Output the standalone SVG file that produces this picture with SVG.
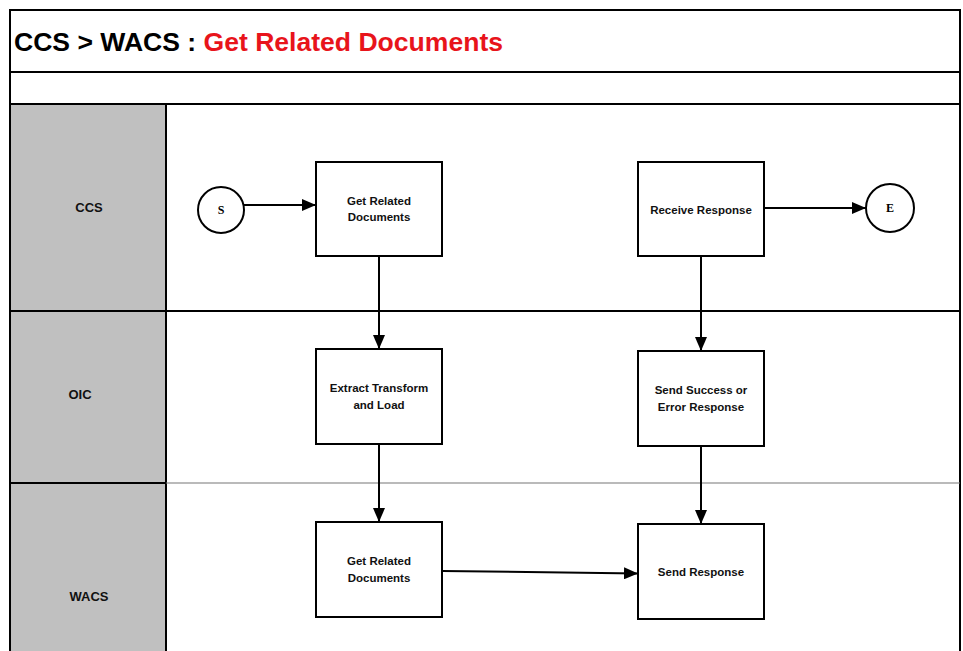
<svg xmlns="http://www.w3.org/2000/svg" width="963" height="651" viewBox="0 0 963 651">
  <defs>
    <marker id="arrow" viewBox="0 0 14 12" refX="14" refY="6" markerWidth="14" markerHeight="12" markerUnits="userSpaceOnUse" orient="auto">
      <path d="M0,0 L14,6 L0,12 Z" fill="#000"/>
    </marker>
    <style>
      .frame { fill: none; stroke: #000; stroke-width: 2; }
      .lanehead { fill: #c0c0c0; stroke: #000; stroke-width: 2; }
      .box { fill: #fff; stroke: #000; stroke-width: 2; }
      .term { fill: #fff; stroke: #000; stroke-width: 2; }
      .lbl { font-family: "Liberation Sans", Arial, sans-serif; font-weight: bold; font-size: 11.5px; fill: #111; text-anchor: middle; }
      .lane { font-family: "Liberation Sans", Arial, sans-serif; font-weight: bold; font-size: 13px; fill: #111; text-anchor: middle; }
      .termtxt { font-family: "Liberation Serif", "Times New Roman", serif; font-weight: bold; font-size: 12px; fill: #000; text-anchor: middle; }
      .title { font-family: "Liberation Sans", Arial, sans-serif; font-weight: bold; font-size: 25px; }
      .conn { fill: none; stroke: #000; stroke-width: 2; marker-end: url(#arrow); }
    </style>
  </defs>

  <rect x="0" y="0" width="963" height="651" fill="#fff"/>

  <!-- Pool frame with title bar and blank band -->
  <g id="pool">
    <rect x="10" y="10" width="950" height="660" class="frame"/>
    <line x1="10" y1="72" x2="960" y2="72" stroke="#000" stroke-width="2"/>
    <line x1="10" y1="104" x2="960" y2="104" stroke="#000" stroke-width="2"/>
    <text x="14" y="51" class="title" textLength="489" lengthAdjust="spacingAndGlyphs"><tspan fill="#000">CCS &gt; WACS : </tspan><tspan fill="#e8141b">Get Related Documents</tspan></text>
  </g>

  <!-- Lane headers and separators -->
  <g id="lane-ccs">
    <rect x="10" y="104" width="156" height="207" class="lanehead"/>
    <line x1="166" y1="311" x2="960" y2="311" stroke="#000" stroke-width="2"/>
    <text x="89" y="212" class="lane">CCS</text>
  </g>
  <g id="lane-oic">
    <rect x="10" y="311" width="156" height="172" class="lanehead"/>
    <text x="80" y="399" class="lane">OIC</text>
  </g>
  <g id="lane-wacs">
    <rect x="10" y="483" width="156" height="190" class="lanehead"/>
    <line x1="166" y1="483" x2="960" y2="483" stroke="#777" stroke-width="1.2"/>
    <text x="89" y="601" class="lane">WACS</text>
  </g>

  <!-- Connectors -->
  <g id="connectors">
    <line x1="244" y1="205" x2="316" y2="205" class="conn"/>
    <line x1="379" y1="257" x2="379" y2="349" class="conn"/>
    <line x1="379" y1="445" x2="379" y2="522" class="conn"/>
    <line x1="764" y1="208" x2="866" y2="208" class="conn"/>
    <line x1="701" y1="257" x2="701" y2="351" class="conn"/>
    <line x1="701" y1="447" x2="701" y2="524" class="conn"/>
    <line x1="442" y1="571" x2="638" y2="573.5" class="conn"/>
  </g>

  <!-- Nodes -->
  <g id="start">
    <circle cx="221" cy="210" r="23" class="term"/>
    <text x="221" y="214" class="termtxt">S</text>
  </g>
  <g id="ccs-get-related-documents">
    <rect x="316" y="162" width="126" height="94" class="box"/>
    <text x="379" y="205" class="lbl">Get Related</text>
    <text x="379" y="221" class="lbl">Documents</text>
  </g>
  <g id="receive-response">
    <rect x="638" y="162" width="126" height="94" class="box"/>
    <text x="701" y="214" class="lbl">Receive Response</text>
  </g>
  <g id="end">
    <circle cx="890" cy="208" r="24" class="term"/>
    <text x="890" y="212" class="termtxt">E</text>
  </g>
  <g id="extract-transform-load">
    <rect x="316" y="349" width="126" height="95" class="box"/>
    <text x="379" y="392" class="lbl">Extract Transform</text>
    <text x="379" y="409" class="lbl">and Load</text>
  </g>
  <g id="send-success-or-error">
    <rect x="638" y="351" width="126" height="95" class="box"/>
    <text x="701" y="394" class="lbl">Send Success or</text>
    <text x="701" y="411" class="lbl">Error Response</text>
  </g>
  <g id="wacs-get-related-documents">
    <rect x="316" y="522" width="126" height="95" class="box"/>
    <text x="379" y="565" class="lbl">Get Related</text>
    <text x="379" y="582" class="lbl">Documents</text>
  </g>
  <g id="send-response">
    <rect x="638" y="524" width="126" height="95" class="box"/>
    <text x="701" y="576" class="lbl">Send Response</text>
  </g>
</svg>
